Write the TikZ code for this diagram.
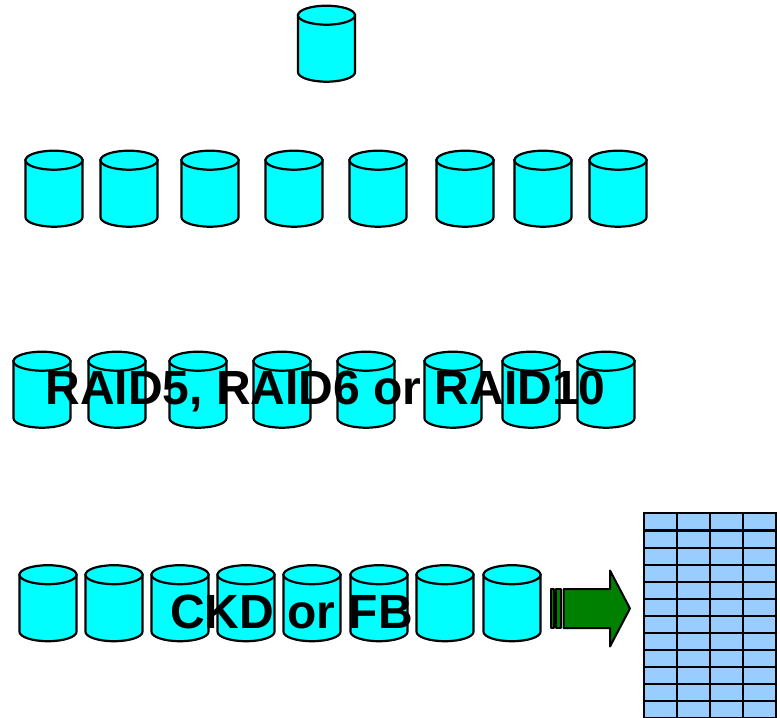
\documentclass[tikz,border=0pt]{standalone}
\usepackage{fontspec}
\setmainfont{Liberation Sans}
\definecolor{diskcyan}{HTML}{00FFFF}
\definecolor{cellblue}{HTML}{99CCFF}
\definecolor{arrowgreen}{HTML}{008000}
\begin{document}
\begin{tikzpicture}[
        x=1pt,
        y=-1pt,
        diskline/.style={draw=black, line width=2.2pt, fill=diskcyan},
        disk/.pic={ % Estilo para discos
            \path[diskline] (-28.5,-28.5) -- (-28.5,28.5)
                arc [start angle=180, end angle=0, x radius=28.5, y radius=9.5]
                -- (28.5,-28.5) -- cycle;
            \path[diskline] (0,-28.5) circle [x radius=28.5, y radius=9.5];
        },
        bigtext/.style={font=\bfseries\fontsize{48}{48}\selectfont, inner sep=0pt},
        cell/.style={draw=black, line width=2.1pt, fill=cellblue},
        shaft/.style={draw=black, line width=2pt, fill=arrowgreen, line join=round}
    ]
    \useasboundingbox (0,0) rectangle (780,718);
    \pic (top) at (326.5,43.7) {disk};
    % Linha de oito discos
    \foreach \px [count=\n] in {54,129,210,294,378,465,543,618}
        \pic (upper\n) at (\px,188.7) {disk};
    \foreach \px [count=\n] in {42,117,198,282,366,453,531,606}
        \pic (raid\n) at (\px,389.7) {disk};
    \foreach \px [count=\n] in {48,114,180,246,312,379,445,512}
        \pic (ckd\n) at (\px,603.2) {disk};
    \node[bigtext] (raidlabel) at (325.7,391) {RAID5, RAID6 or RAID10};
    \node[bigtext] (ckdlabel) at (291.5,612) {CKD or FB};
    % Seta verde
    \draw[shaft] (550.5,589) rectangle (554,628);
    \draw[shaft] (556,589) rectangle (561,628);
    \draw[shaft] (563.5,589) -- (610,589) -- (610,570.5) -- (630,608.5) -- (610,646.5) -- (610,628) -- (563.5,628) -- cycle;
    % Tabela de volumes
    \foreach \row in {0,...,11}
        \foreach \col in {0,...,3}
            \draw[cell] ({644+\col*33},{513.4+\row*17.08}) rectangle ({644+(\col+1)*33},{513.4+(\row+1)*17.08});
\end{tikzpicture}
\end{document}
